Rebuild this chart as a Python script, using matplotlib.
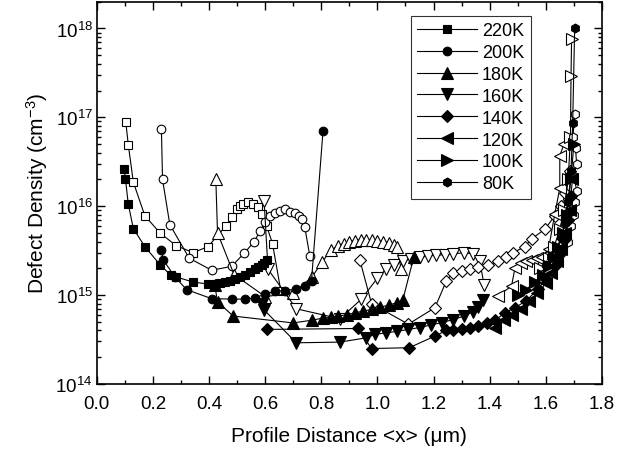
import matplotlib
matplotlib.use("Agg")
import matplotlib.pyplot as plt
from matplotlib.ticker import MultipleLocator, LogLocator, NullFormatter

plt.rcParams["font.family"] = ["Liberation Sans", "DejaVu Sans"]
plt.rcParams["mathtext.fontset"] = "custom"
plt.rcParams["mathtext.rm"] = "Liberation Sans"
plt.rcParams["mathtext.default"] = "regular"

# ---- data (x in um, density in cm^-3) ----
# filled markers
x_220f = [0.097, 0.102, 0.112, 0.13, 0.171, 0.225, 0.264, 0.282, 0.343, 0.396, 0.42, 0.44,
          0.456, 0.475, 0.492, 0.51, 0.527, 0.545, 0.563, 0.575, 0.587, 0.597, 0.605]
y_220f = [2.6e16, 2.0e16, 1.05e16, 5.6e15, 3.5e15, 2.2e15, 1.66e15, 1.6e15, 1.4e15, 1.33e15, 1.33e15, 1.36e15,
          1.4e15, 1.45e15, 1.5e15, 1.58e15, 1.68e15, 1.8e15, 1.95e15, 2.05e15, 2.2e15, 2.3e15, 2.45e15]

x_200f = [0.23, 0.236, 0.278, 0.32, 0.409, 0.48, 0.527, 0.563, 0.599, 0.634, 0.67, 0.71, 0.741, 0.765, 0.806]
y_200f = [3.2e15, 2.5e15, 1.6e15, 1.15e15, 9.1e14, 9.0e14, 9.0e14, 9.3e14, 1.02e15, 1.1e15, 1.12e15, 1.17e15,
          1.26e15, 1.45e15, 7.0e16]

x_180f = [0.42, 0.43, 0.486, 0.70, 0.765, 0.806, 0.836, 0.86, 0.89, 0.92, 0.95, 0.98, 1.01, 1.04, 1.07, 1.09, 1.13]
y_180f = [1.3e15, 8.4e14, 5.8e14, 4.85e14, 5.2e14, 5.5e14, 5.6e14, 5.8e14, 6.0e14, 6.3e14, 6.6e14, 6.9e14,
          7.3e14, 7.7e14, 8.2e14, 8.7e14, 2.7e15]

x_160f = [0.587, 0.596, 0.711, 0.866, 0.961, 0.99, 1.03, 1.07, 1.11, 1.15, 1.19, 1.23, 1.27, 1.31, 1.34, 1.36, 1.377]
y_160f = [8.0e14, 6.8e14, 2.9e14, 2.95e14, 3.3e14, 3.6e14, 3.75e14, 3.9e14, 4.1e14, 4.3e14, 4.6e14, 4.9e14,
          5.3e14, 5.8e14, 6.5e14, 7.3e14, 8.7e14]

x_140f = [0.605, 0.93, 0.979, 1.113, 1.205, 1.246, 1.27, 1.30, 1.33, 1.36, 1.39, 1.42, 1.454, 1.49, 1.53,
          1.573, 1.60, 1.632, 1.65, 1.665, 1.68, 1.69]
y_140f = [4.1e14, 4.2e14, 2.5e14, 2.55e14, 3.45e14, 4.0e14, 4.05e14, 4.15e14, 4.3e14, 4.5e14, 4.8e14, 5.2e14,
          6.3e14, 7.2e14, 8.6e14, 1.17e15, 1.5e15, 2.1e15, 2.9e15, 4.2e15, 7.0e15, 1.3e16]

x_120f = [1.418, 1.45, 1.48, 1.51, 1.54, 1.57, 1.60, 1.62, 1.64, 1.655, 1.67, 1.685, 1.695]
y_120f = [4.2e14, 5.2e14, 6.0e14, 7.0e14, 8.5e14, 1.05e15, 1.35e15, 1.75e15, 2.4e15, 3.3e15, 5.0e15, 9.0e15, 2.0e16]

x_100f = [1.50, 1.53, 1.56, 1.59, 1.61, 1.63, 1.645, 1.66, 1.675, 1.69, 1.70]
y_100f = [1.0e15, 1.15e15, 1.4e15, 1.7e15, 2.1e15, 2.7e15, 3.5e15, 5.0e15, 8.0e15, 2.0e16, 5.0e16]

x_80f = [1.60, 1.62, 1.64, 1.655, 1.668, 1.68, 1.69, 1.696, 1.703]
y_80f = [2.2e15, 2.7e15, 3.4e15, 4.5e15, 6.5e15, 1.1e16, 2.5e16, 8.7e16, 1.0e18]

# open markers
x_220o = [0.103, 0.112, 0.13, 0.171, 0.225, 0.282, 0.343, 0.396, 0.46, 0.48, 0.498, 0.51, 0.522, 0.539,
          0.557, 0.575, 0.589, 0.605, 0.626, 0.656]
y_220o = [8.9e16, 4.9e16, 1.86e16, 7.8e15, 5.0e15, 3.6e15, 3.0e15, 3.5e15, 6.0e15, 7.5e15, 9.3e15, 1.0e16,
          1.05e16, 1.1e16, 1.05e16, 9.7e15, 8.1e15, 6.0e15, 3.8e15, 1.1e15]

x_200o = [0.23, 0.234, 0.26, 0.329, 0.409, 0.48, 0.525, 0.561, 0.581, 0.599, 0.617, 0.634, 0.652, 0.67,
          0.688, 0.706, 0.72, 0.732, 0.741, 0.759]
y_200o = [7.4e16, 2.0e16, 6.2e15, 2.6e15, 1.9e15, 2.1e15, 2.95e15, 4.0e15, 5.2e15, 6.6e15, 7.8e15, 8.3e15,
          8.9e15, 9.3e15, 8.7e15, 8.3e15, 7.8e15, 7.1e15, 5.8e15, 2.75e15]

x_180o = [0.424, 0.43, 0.489, 0.60, 0.70, 0.767, 0.803, 0.834, 0.86, 0.88, 0.90, 0.92, 0.94, 0.96, 0.98,
          1.00, 1.02, 1.04, 1.06, 1.068, 1.085]
y_180o = [2.0e16, 5.0e15, 1.7e15, 9.6e14, 1.05e15, 1.6e15, 2.35e15, 3.2e15, 3.6e15, 3.8e15, 4.0e15, 4.1e15,
          4.2e15, 4.2e15, 4.15e15, 4.1e15, 4.0e15, 3.9e15, 3.7e15, 3.5e15, 1.95e15]

x_160o = [0.596, 0.61, 0.711, 0.866, 0.943, 1.0, 1.03, 1.06, 1.09, 1.12, 1.15, 1.18, 1.21, 1.24, 1.27,
          1.31, 1.34, 1.365, 1.38]
y_160o = [1.15e16, 1.95e15, 7.0e14, 5.4e14, 9.0e14, 1.55e15, 1.95e15, 2.2e15, 2.4e15, 2.55e15, 2.65e15,
          2.75e15, 2.8e15, 2.85e15, 2.9e15, 3.0e15, 2.9e15, 2.4e15, 1.3e15]

x_140o = [0.937, 0.979, 1.11, 1.205, 1.246, 1.27, 1.30, 1.33, 1.36, 1.394, 1.43, 1.46, 1.484, 1.525, 1.55,
          1.597, 1.632, 1.656, 1.67, 1.685]
y_140o = [2.5e15, 8.0e14, 4.7e14, 7.2e14, 1.45e15, 1.78e15, 1.85e15, 1.95e15, 2.05e15, 2.15e15, 2.4e15,
          2.7e15, 3.0e15, 3.5e15, 4.3e15, 5.5e15, 7.8e15, 1.0e16, 1.4e16, 2.5e16]

x_120o = [1.43, 1.478, 1.49, 1.51, 1.53, 1.55, 1.57, 1.585, 1.61, 1.632, 1.65, 1.65, 1.665]
y_120o = [9.8e14, 1.26e15, 2.0e15, 2.3e15, 2.4e15, 2.5e15, 2.6e15, 2.65e15, 3.3e15, 8.1e15, 1.6e16, 3.7e16, 5.0e16]

x_100o = [1.58, 1.61, 1.63, 1.65, 1.665, 1.68, 1.688, 1.69, 1.692]
y_100o = [2.0e15, 2.6e15, 3.5e15, 5.5e15, 9.0e15, 2.0e16, 6.0e16, 2.9e17, 7.6e17]

x_80o = [1.68, 1.69, 1.70, 1.705, 1.71, 1.70, 1.71, 1.706, 1.697, 1.703]
y_80o = [4.0e15, 6.0e15, 8.0e15, 1.1e16, 1.5e16, 2.2e16, 3.0e16, 4.5e16, 6.0e16, 1.08e17]

labels = ["220K", "200K", "180K", "160K", "140K", "120K", "100K", "80K"]
markers = ["s", "o", "^", "v", "D", "<", ">", "h"]
sizes = [5.5, 6.2, 8.2, 8.2, 6.0, 8.2, 8.2, 6.4]
filled = [(x_220f, y_220f), (x_200f, y_200f), (x_180f, y_180f), (x_160f, y_160f),
          (x_140f, y_140f), (x_120f, y_120f), (x_100f, y_100f), (x_80f, y_80f)]
opened = [(x_220o, y_220o), (x_200o, y_200o), (x_180o, y_180o), (x_160o, y_160o),
          (x_140o, y_140o), (x_120o, y_120o), (x_100o, y_100o), (x_80o, y_80o)]

fig = plt.figure(figsize=(6.25, 4.56), dpi=100)
ax = fig.add_axes([0.155, 0.156, 0.808, 0.838])

# open series first, filled on top
for (x, y), m, s in zip(opened, markers, sizes):
    ax.plot(x, y, color="black", lw=0.8, marker=m, ms=s, mfc="white", mec="black", mew=0.8)

handles = []
for (x, y), m, s, lab in zip(filled, markers, sizes, labels):
    h, = ax.plot(x, y, color="black", lw=0.8, marker=m, ms=s, mfc="black", mec="black", mew=0.8, label=lab)
    handles.append(h)

ax.set_yscale("log")
ax.set_xlim(0.0, 1.8)
ax.set_ylim(1e14, 2e18)

ax.xaxis.set_major_locator(MultipleLocator(0.2))
ax.xaxis.set_minor_locator(MultipleLocator(0.1))
ax.xaxis.set_major_formatter(plt.FuncFormatter(lambda v, p: f"{v:.1f}"))
ax.yaxis.set_major_locator(LogLocator(base=10, numticks=10))
ax.yaxis.set_minor_locator(LogLocator(base=10, subs=range(2, 10), numticks=10))
ax.yaxis.set_minor_formatter(NullFormatter())

ax.tick_params(which="both", direction="in", top=True, right=True, width=1.0)
ax.tick_params(which="major", length=5.5, labelsize=13.5)
ax.tick_params(axis="x", which="major", pad=8)
ax.tick_params(axis="y", which="major", pad=3)
ax.tick_params(which="minor", length=3)
for sp in ax.spines.values():
    sp.set_linewidth(1.2)

ax.set_xlabel("Profile Distance <x> (\u03bcm)", fontsize=15, labelpad=10)
ax.set_ylabel("Defect Density (cm$^{-3}$)", fontsize=15, labelpad=4)

leg = ax.legend(handles=handles, loc="upper right", bbox_to_anchor=(0.859, 0.963), borderaxespad=0,
                fontsize=13, frameon=True, fancybox=False, handlelength=3.3, handletextpad=0.3,
                labelspacing=0.27, borderpad=0.35)
leg.get_frame().set_edgecolor("black")
leg.get_frame().set_linewidth(0.8)

fig.savefig("out.png", dpi=100)
